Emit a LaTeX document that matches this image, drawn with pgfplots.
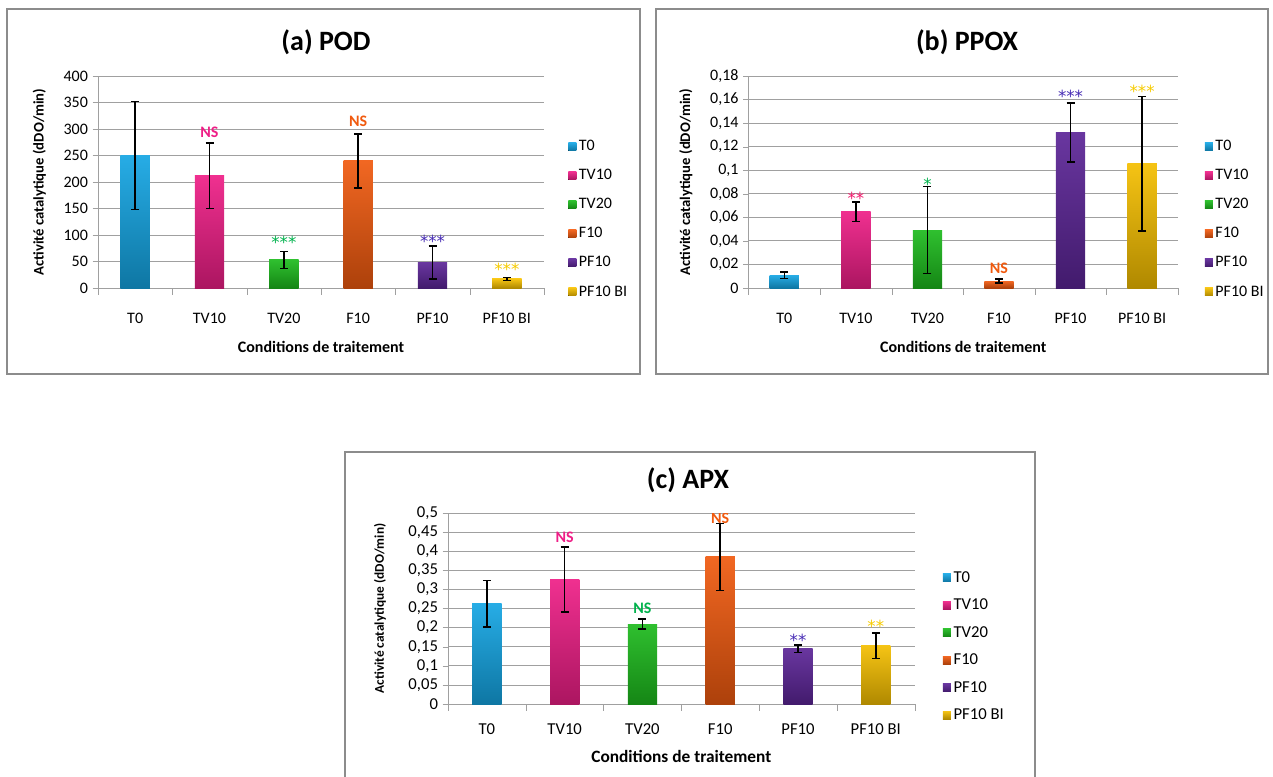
\documentclass[border=0pt]{standalone}
\usepackage{pgfplots}
\pgfplotsset{compat=1.18}
\usepackage{fontspec}
\setmainfont{Carlito}
\newfontfamily\dejavu{DejaVu Sans}
\definecolor{cT0}{HTML}{14A5E3}
\definecolor{cTV10}{HTML}{EE1E86}
\definecolor{cTV20}{HTML}{1DBA1D}
\definecolor{cF10}{HTML}{F05A0F}
\definecolor{cPF10}{HTML}{5C2597}
\definecolor{cPFBI}{HTML}{F4BE00}
\definecolor{frame}{HTML}{8C8C8C}
\definecolor{axisgray}{HTML}{A0A0A0}
\pgfplotsset{
 panel/.style={
  scale only axis, xmin=-0.5, xmax=5.5, ymin=0,
  axis x line=bottom, axis y line=left, axis line style={-, draw=axisgray},
  xtick={0,...,5}, xticklabels={T0,TV10,TV20,F10,PF10,PF10 BI},
  minor xtick={-0.5,0.5,...,5.5},
  tick align=outside,
  major x tick style={draw=none},
  minor x tick style={draw=axisgray},
  minor tick length=5pt, major tick length=4pt,
  ytick style={draw=axisgray},
  ymajorgrids, grid style={axisgray, line width=0.6pt},
  ticklabel style={font=\fontsize{12}{14}\selectfont},
  /pgf/number format/assume math mode=true,
  yticklabel style={/pgf/number format/.cd, use comma, fixed, precision=2, 1000 sep={}},
  xlabel={Conditions de traitement},
  ylabel={Activité catalytique (dDO/min)},
  xlabel style={font=\bfseries\fontsize{12}{14}\selectfont, at={(axis description cs:0.5,0)}, anchor=center},
  ylabel style={font=\bfseries\fontsize{11}{13}\selectfont, at={(axis description cs:0,0.5)}, anchor=center},
  legend style={draw=none, fill=none, font=\fontsize{12}{14}\selectfont, anchor=north west, legend cell align=left, row sep=8.5pt, inner sep=0pt},
 },
 bb/.style={ybar, bar shift=0pt, bar width=22pt, draw=none,
  top color=#1!92!white, bottom color=#1!72!black,
  legend image code/.code={\fill[##1] (0pt,-3pt) rectangle (6pt,3pt);},
  error bars/.cd, y dir=both, y explicit,
  error bar style={black, line width=1.1pt},
  error mark options={rotate=90, black, mark size=3pt, line width=1.1pt}},
}
\tikzset{
 ast/.style={font=\dejavu\fontsize{12.5}{14}\selectfont},
 ns/.style={font=\bfseries\fontsize{12}{14}\selectfont},
}
\begin{document}
\begin{tikzpicture}[x=0.75pt,y=0.75pt]
\useasboundingbox (0,0) rectangle (1273,776);
\draw[frame, line width=0.8pt] (7,402) rectangle (640,767);
\draw[frame, line width=0.8pt] (656,402) rectangle (1268,767);
\draw[frame, line width=0.8pt] (345,-10) rectangle (1035,324);
\node[font=\bfseries\fontsize{21}{24}\selectfont] at (326,734) {(a) POD};
\node[font=\bfseries\fontsize{21}{24}\selectfont] at (967,734) {(b) PPOX};
\node[font=\bfseries\fontsize{21}{24}\selectfont] at (688,296) {(c) APX};
% (a) POD
\begin{axis}[panel, at={(73.5pt,366pt)}, width=334.5pt, height=159pt,
  ymax=400, ytick distance=50,
  xticklabel style={yshift=-11pt},
  xlabel style={yshift=-44pt},
  ylabel style={yshift=44pt},
  legend style={at={(1,0.71)}, xshift=18pt}]
\addplot[bb=cT0] coordinates {(0,250) +- (0,102)};
\addplot[bb=cTV10] coordinates {(1,212) +- (0,62)};
\addplot[bb=cTV20] coordinates {(2,53) +- (0,16)};
\addplot[bb=cF10] coordinates {(3,240) +- (0,51)};
\addplot[bb=cPF10] coordinates {(4,48) +- (0,31)};
\addplot[bb=cPFBI] coordinates {(5,17) +- (0,3)};
\legend{T0,TV10,TV20,F10,PF10,PF10 BI}
\node[ns, text=cTV10] at (axis cs:1,294) {NS};
\node[ns, text=cF10] at (axis cs:3,315) {NS};
\node[ast, text=teal!60!green] at (axis cs:2,86) {***};
\node[ast, text=cPF10!60!blue!80!gray] at (axis cs:4,88) {***};
\node[ast, text=cPFBI!80!yellow] at (axis cs:5,35) {***};
\end{axis}
% (b) PPOX
\begin{axis}[panel, at={(561.4pt,366pt)}, width=322pt, height=159pt,
  ymax=0.18, ytick distance=0.02,
  xticklabel style={yshift=-11pt},
  xlabel style={yshift=-44pt},
  ylabel style={yshift=47pt},
  legend style={at={(1,0.71)}, xshift=20pt}]
\addplot[bb=cT0] coordinates {(0,0.0108) +- (0,0.0026)};
\addplot[bb=cTV10] coordinates {(1,0.0648) +- (0,0.0084)};
\addplot[bb=cTV20] coordinates {(2,0.0492) +- (0,0.0369)};
\addplot[bb=cF10] coordinates {(3,0.0059) +- (0,0.0017)};
\addplot[bb=cPF10] coordinates {(4,0.1319) +- (0,0.0250)};
\addplot[bb=cPFBI] coordinates {(5,0.1056) +- (0,0.0572)};
\legend{T0,TV10,TV20,F10,PF10,PF10 BI}
\node[ast, text=cTV10!80!red] at (axis cs:1,0.076) {**};
\node[ast, text=teal!60!green] at (axis cs:2,0.088) {*};
\node[ns, text=cF10] at (axis cs:3,0.017) {NS};
\node[ast, text=cPF10!60!blue!80!gray] at (axis cs:4,0.163) {***};
\node[ast, text=cPFBI!80!yellow] at (axis cs:5,0.167) {***};
\end{axis}
% (c) APX
\begin{axis}[panel, at={(336pt,54pt)}, width=350pt, height=143.25pt,
  ymax=0.5, ytick distance=0.05,
  ticklabel style={font=\fontsize{12.5}{14}\selectfont},
  xticklabel style={yshift=-7pt},
  xlabel style={font=\bfseries\fontsize{13}{15}\selectfont, yshift=-39pt},
  ylabel style={font=\bfseries\fontsize{10}{12}\selectfont, yshift=51pt},
  legend style={at={(1,0.71)}, xshift=21pt, row sep=7pt, font=\fontsize{12.5}{14}\selectfont}]
\addplot[bb=cT0] coordinates {(0,0.262) +- (0,0.061)};
\addplot[bb=cTV10] coordinates {(1,0.3255) +- (0,0.085)};
\addplot[bb=cTV20] coordinates {(2,0.2094) +- (0,0.0135)};
\addplot[bb=cF10] coordinates {(3,0.385) +- (0,0.088)};
\addplot[bb=cPF10] coordinates {(4,0.145) +- (0,0.0097)};
\addplot[bb=cPFBI] coordinates {(5,0.1527) +- (0,0.0332)};
\legend{T0,TV10,TV20,F10,PF10,PF10 BI}
\node[ns, text=cTV10] at (axis cs:1,0.437) {NS};
\node[ns, text=cF10] at (axis cs:3,0.487) {NS};
\node[ns, text=teal!60!green] at (axis cs:2,0.250) {NS};
\node[ast, text=cPF10!60!blue!80!gray] at (axis cs:4,0.166) {**};
\node[ast, text=cPFBI!80!yellow] at (axis cs:5,0.203) {**};
\end{axis}
\end{tikzpicture}
\end{document}
